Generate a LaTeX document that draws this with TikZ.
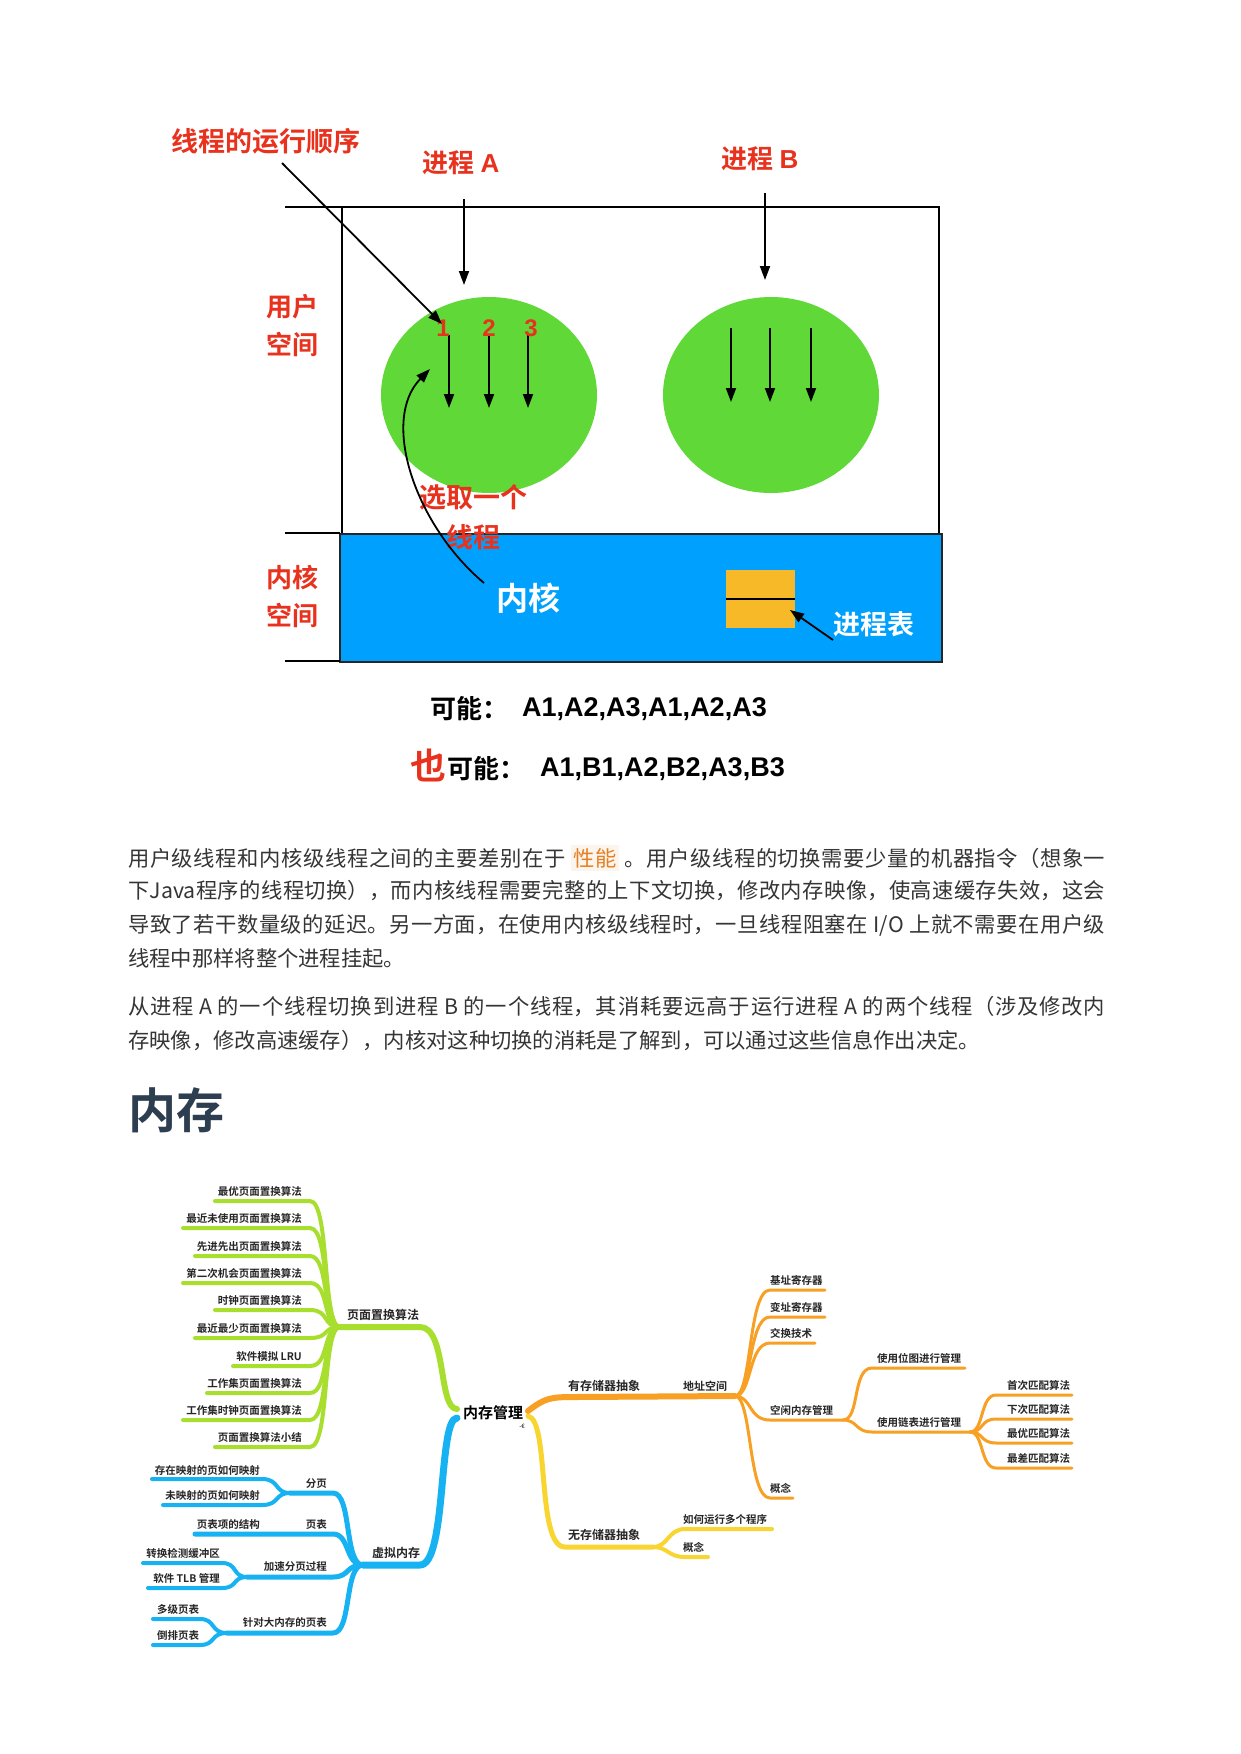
\documentclass[tikz,border=0pt]{standalone}
\usepackage{fontspec}
\setmainfont{Noto Sans CJK SC}[BoldFont={Noto Sans CJK SC Bold}]
\newfontfamily\latb{Liberation Sans}
\usetikzlibrary{arrows.meta,shapes.geometric}
\XeTeXlinebreaklocale "zh"
\XeTeXlinebreakskip=0pt plus 3pt
\newcommand\fsz[1]{\fontsize{#1}{#1}\selectfont}
\newcommand\fullline[1]{\parbox{977pt}{\parfillskip=0pt\relax\rightskip=0pt\relax #1\par}}
\definecolor{redlbl}{HTML}{E8321E}
\definecolor{greenfill}{HTML}{5FD838}
\definecolor{bluefill}{HTML}{00A1FE}
\definecolor{tablefill}{HTML}{F7B928}
\definecolor{bodytext}{HTML}{353535}
\definecolor{headtext}{HTML}{2C3E50}
\definecolor{mmgreen}{HTML}{A8DF2E}
\definecolor{mmblue}{HTML}{17B2F2}
\definecolor{mmorange}{HTML}{F7A023}
\definecolor{mmyellow}{HTML}{F8D531}
\definecolor{hlfg}{HTML}{E67E22}
\definecolor{hlbg}{HTML}{FBF5EE}
\newcommand\hlword[1]{{\setlength\fboxsep{3pt}\colorbox{hlbg}{\textcolor{hlfg}{#1}}}}
\tikzset{
  redlabel/.style={text=redlbl,font=\bfseries\fsz{26},inner sep=0pt},
  arr/.style={-{Triangle[length=14pt,width=10pt]},line width=1.8pt},
  tick/.style={line width=2.6pt},
  body/.style={text=bodytext,font=\fsz{21.3},inner sep=0pt,anchor=west},
  mm/.style={inner sep=0pt,font=\bfseries\fsz{10.5},text=black!85},
  mmbig/.style={inner sep=0pt,font=\bfseries\fsz{12},text=black!85},
  branch/.style={line width=#1,line cap=round,line join=round},
  gleaf/.style={branch=4pt,draw=mmgreen},
  bleaf/.style={branch=4pt,draw=mmblue},
  oleaf/.style={branch=3pt,draw=mmorange},
  yleaf/.style={branch=4pt,draw=mmyellow},
}
\begin{document}
\begin{tikzpicture}[x=1pt,y=-1pt]
\useasboundingbox[fill=white] (0,0) rectangle (1240,1754);

% ---------- user space / kernel space diagram ----------
\draw[line width=1.3pt] (342,207) rectangle (939,534);
\fill[bluefill] (340,534) rectangle (942,662);
\draw[line width=1.6pt,black!85] (340,534) rectangle (942,662);
\draw[tick] (285,207) -- (342,207);
\draw[tick] (285,533) -- (340,533);
\draw[tick] (285,661) -- (340,661);

\node[ellipse,fill=greenfill,minimum width=216pt,minimum height=196pt,inner sep=0pt] (procA) at (489,395) {};
\node[ellipse,fill=greenfill,minimum width=216pt,minimum height=196pt,inner sep=0pt] (procB) at (771,395) {};

\node[redlabel,font=\bfseries\fsz{27}] (order) at (266,141) {线程的运行顺序};
\node[redlabel] (labA) at (461,163) {进程 {\latb\bfseries A}};
\node[redlabel] (labB) at (760,159) {进程 {\latb\bfseries B}};
\node[redlabel] (us1) at (292,307) {用户};
\node[redlabel] (us2) at (292,344) {空间};
\node[redlabel] (ks1) at (292,578) {内核};
\node[redlabel] (ks2) at (292,615) {空间};

\coordinate (aTop) at (464,199); \coordinate (aBot) at (464,285);
\coordinate (bTop) at (765,193); \coordinate (bBot) at (765,280);
\draw[arr] (aTop) -- (aBot);
\draw[arr] (bTop) -- (bBot);

% threads of process A
\foreach \x/\n in {449/1,489/2,528/3}{
  \coordinate (ta\n) at (\x,335); \coordinate (tb\n) at (\x,408);
  \draw[arr] (ta\n) -- (tb\n);
}
\node[redlabel,font=\latb\bfseries\fsz{24}] (n1) at (443,328) {1};
\node[redlabel,font=\latb\bfseries\fsz{24}] (n2) at (489,328) {2};
\node[redlabel,font=\latb\bfseries\fsz{24}] (n3) at (531,328) {3};
% threads of process B
\foreach \x/\n in {731/1,770/2,811/3}{
  \coordinate (tc\n) at (\x,328); \coordinate (td\n) at (\x,402);
  \draw[arr] (tc\n) -- (td\n);
}

\coordinate (orderEnd) at (282,163); \coordinate (orderTip) at (442,324);
\draw[arr] (orderEnd) -- (orderTip);

\node[redlabel,font=\bfseries\fsz{27}] (pick1) at (473,497) {选取一个};
\node[redlabel,font=\bfseries\fsz{27}] (pick2) at (473,537) {线程};
\node[text=white,font=\bfseries\fsz{32},inner sep=0pt] (kern) at (528,598) {内核};
\coordinate (kernStart) at (484,583); \coordinate (pickTip) at (430,369);
\draw[arr] (kernStart) .. controls (415,525) and (380,420) .. (pickTip);

\node[fill=tablefill,minimum width=69pt,minimum height=58pt,inner sep=0pt] (ptable) at (760.5,599) {};
\draw[line width=2.4pt] (ptable.west) -- (ptable.east);
\node[text=white,font=\bfseries\fsz{27},inner sep=0pt] (ptlab) at (874,624) {进程表};
\coordinate (ptFrom) at (833,640); \coordinate (ptTo) at (790,610);
\draw[arr] (ptFrom) -- (ptTo);

\node[inner sep=0pt,anchor=west,font=\bfseries\fsz{26}] (may1) at (430,709) {可能：};
\node[inner sep=0pt,anchor=west,font=\latb\bfseries\fsz{27}] (seq1) at (522,709) {A1,A2,A3,A1,A2,A3};
\node[inner sep=0pt,anchor=west,font=\bfseries\fsz{36},text=redlbl] (also) at (410,765) {也};
\node[inner sep=0pt,anchor=west,font=\bfseries\fsz{26}] (may2) at (447,769) {可能：};
\node[inner sep=0pt,anchor=west,font=\latb\bfseries\fsz{27}] (seq2) at (540,769) {A1,B1,A2,B2,A3,B3};

% ---------- paragraphs ----------
\node[body] (p1a) at (128,858) {\fullline{用户级线程和内核级线程之间的主要差别在于 \hlword{性能} 。用户级线程的切换需要少量的机器指令（想象一}};
\node[body] (p1b) at (128,891) {\fullline{下Java程序的线程切换），而内核线程需要完整的上下文切换，修改内存映像，使高速缓存失效，这会}};
\node[body] (p1c) at (128,925) {\fullline{导致了若干数量级的延迟。另一方面，在使用内核级线程时，一旦线程阻塞在 I/O 上就不需要在用户级}};
\node[body] (p1d) at (128,958) {线程中那样将整个进程挂起。};
\node[body] (p2a) at (128,1007) {\fullline{从进程 A 的一个线程切换到进程 B 的一个线程，其消耗要远高于运行进程 A 的两个线程（涉及修改内}};
\node[body] (p2b) at (128,1041) {存映像，修改高速缓存），内核对这种切换的消耗是了解到，可以通过这些信息作出决定。};

\node[inner sep=0pt,anchor=west,font=\bfseries\fsz{48},text=headtext] (head) at (128,1110) {内存};

% ---------- mind map ----------
\node[inner sep=0pt,font=\bfseries\fsz{15}] (root) at (493,1413) {内存管理};
\node[inner sep=0pt,font=\fsz{6}] (rootmark) at (522,1426) {-€};
\coordinate (rootL1) at (457,1409);
\coordinate (rootL2) at (457,1418);
\coordinate (rootR1) at (528,1411);
\coordinate (rootR2) at (528,1416);

% green: page replacement
\coordinate (ghub) at (340,1327);
\node[mmbig,anchor=base west] (gmain) at (347,1319) {页面置换算法};
\draw[branch=6pt,draw=mmgreen] (ghub) -- (420,1327) .. controls (447,1327) and (438,1409) .. (rootL1);
\foreach \t/\y/\l [count=\i] in {
  最优页面置换算法/1201/215,
  最近未使用页面置换算法/1228/183,
  先进先出页面置换算法/1256/195,
  第二次机会页面置换算法/1283/183,
  时钟页面置换算法/1310/215,
  最近最少页面置换算法/1338/195,
  软件模拟 LRU/1366/233,
  工作集页面置换算法/1393/207,
  工作集时钟页面置换算法/1420/183,
  页面置换算法小结/1447/215}{
  \node[mm,anchor=base east] (g\i) at (302,\y-6) {\t};
  \coordinate (gs\i) at (\l,\y);
  \coordinate (ge\i) at (310,\y);
  \draw[gleaf] (gs\i) -- (ge\i) .. controls (330,\y) and (322,1327) .. (ghub);
}

% blue: virtual memory
\coordinate (bhub) at (363,1565);
\node[mmbig,anchor=base west] (bmain) at (372,1557) {虚拟内存};
\draw[branch=7pt,draw=mmblue] (bhub) -- (420,1565) .. controls (447,1565) and (438,1418) .. (rootL2);

\node[mm,anchor=base east] (paging) at (327,1487) {分页};
\node[mm,anchor=base east] (ptab) at (327,1528) {页表};
\node[mm,anchor=base east] (speed) at (327,1570) {加速分页过程};
\node[mm,anchor=base east] (large) at (327,1626) {针对大内存的页表};
\coordinate (pgHub) at (290,1493);
\coordinate (spHub) at (247,1577);
\coordinate (lgHub) at (227,1633);
\draw[branch=5pt,draw=mmblue] (pgHub) -- (333,1493) .. controls (352,1493) and (344,1565) .. (bhub);
\draw[branch=5pt,draw=mmblue] (195,1534) -- (333,1534) .. controls (350,1534) and (345,1565) .. (bhub);
\draw[branch=5pt,draw=mmblue] (spHub) -- (333,1577) .. controls (350,1577) and (345,1565) .. (bhub);
\draw[branch=5pt,draw=mmblue] (lgHub) -- (333,1633) .. controls (352,1633) and (344,1565) .. (bhub);

\node[mm,anchor=base east] (pg1) at (260,1474) {存在映射的页如何映射};
\node[mm,anchor=base east] (pg2) at (260,1499) {未映射的页如何映射};
\node[mm,anchor=base east] (pt1) at (260,1528) {页表项的结构};
\node[mm,anchor=base east] (sp1) at (220,1557) {转换检测缓冲区};
\node[mm,anchor=base east] (sp2) at (220,1582) {软件 TLB 管理};
\node[mm,anchor=base west] (lg1) at (157,1613) {多级页表};
\node[mm,anchor=base west] (lg2) at (157,1639) {倒排页表};
\draw[bleaf] (152,1479) -- (262,1479) .. controls (280,1479) and (274,1493) .. (pgHub);
\draw[bleaf] (163,1505) -- (262,1505) .. controls (280,1505) and (274,1493) .. (pgHub);
\draw[bleaf] (143,1563) -- (222,1563) .. controls (238,1563) and (232,1577) .. (spHub);
\draw[bleaf] (148,1588) -- (222,1588) .. controls (238,1588) and (232,1577) .. (spHub);
\draw[bleaf] (153,1619) -- (200,1619) .. controls (216,1619) and (210,1633) .. (lgHub);
\draw[bleaf] (153,1645) -- (200,1645) .. controls (216,1645) and (210,1633) .. (lgHub);

% orange: with memory abstraction
\coordinate (ohub) at (735,1396);
\node[mmbig,anchor=base west] (omain) at (568,1390) {有存储器抽象};
\node[mm,anchor=base west,font=\bfseries\fsz{11}] (addr) at (683,1390) {地址空间};
\draw[branch=6pt,draw=mmorange] (rootR1) .. controls (545,1398) and (550,1397) .. (575,1397) -- (ohub);
\foreach \t/\y/\r [count=\i] in {基址寄存器/1290/825,变址寄存器/1317/825,交换技术/1343/815,空闲内存管理/1420/843,概念/1498/793}{
  \node[mm,anchor=base west] (o\i) at (770,\y-6) {\t};
  \coordinate (oe\i) at (\r,\y);
  \draw[oleaf] (ohub) .. controls (752,1396) and (748,\y) .. (770,\y) -- (oe\i);
}
\node[mm,anchor=base west] (bitmap) at (877,1362) {使用位图进行管理};
\node[mm,anchor=base west] (llist) at (877,1426) {使用链表进行管理};
\coordinate (lhub) at (970,1432);
\draw[oleaf] (oe4) .. controls (860,1420) and (852,1368) .. (872,1368) -- (965,1368);
\draw[oleaf] (oe4) .. controls (858,1420) and (855,1432) .. (872,1432) -- (lhub);
\foreach \t/\y [count=\i] in {首次匹配算法/1395,下次匹配算法/1419,最优匹配算法/1443,最差匹配算法/1468}{
  \node[mm,anchor=base west] (fit\i) at (1007,\y-6) {\t};
  \coordinate (fe\i) at (1072,\y);
  \draw[oleaf] (lhub) .. controls (984,1432) and (980,\y) .. (996,\y) -- (fe\i);
}

% yellow: without memory abstraction
\coordinate (yhub) at (653,1547);
\node[mmbig,anchor=base west] (ymain) at (568,1539) {无存储器抽象};
\draw[branch=5pt,draw=mmyellow] (rootR2) .. controls (550,1420) and (536,1547) .. (565,1547) -- (yhub);
\node[mm,anchor=base west] (y1) at (683,1523) {如何运行多个程序};
\node[mm,anchor=base west] (y2) at (683,1551) {概念};
\draw[yleaf] (yhub) .. controls (668,1547) and (668,1529) .. (685,1529) -- (772,1529);
\draw[yleaf] (yhub) .. controls (668,1547) and (668,1557) .. (685,1557) -- (708,1557);
\end{tikzpicture}
\end{document}
